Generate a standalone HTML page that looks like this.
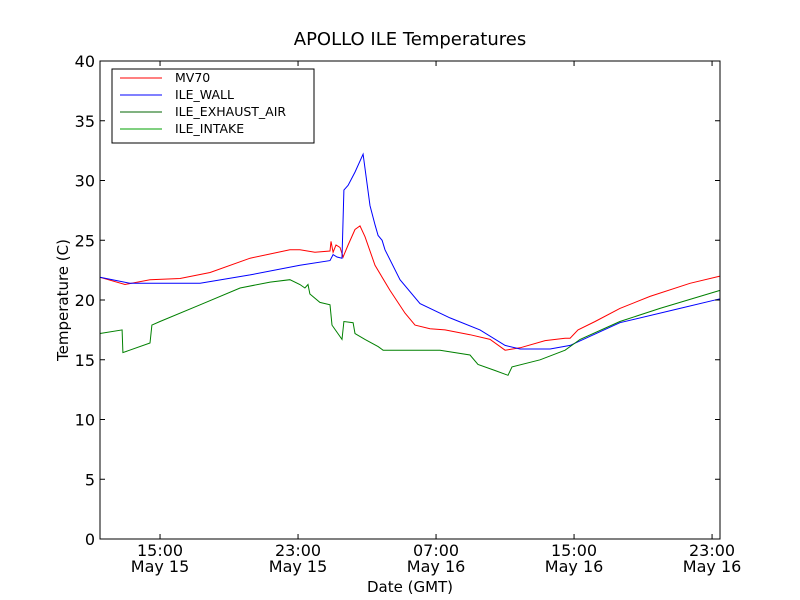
<!DOCTYPE html>
<html><head><meta charset="utf-8"><style>
body{margin:0;background:#fff;}
svg{display:block;font-family:"DejaVu Sans","Liberation Sans",sans-serif;}
</style></head><body>
<svg id="chart" width="800" height="600">
<rect width="800" height="600" fill="#fff"/>
<text x="410" y="45" text-anchor="middle" font-size="18">APOLLO ILE Temperatures</text>
<g id="plot"></g>
<rect x="100" y="61" width="620" height="478" fill="none" stroke="#000" stroke-width="1"/>
<g id="axes"></g>
<text x="410" y="592" text-anchor="middle" font-size="15">Date (GMT)</text>
<text transform="translate(68,300) rotate(-90)" text-anchor="middle" font-size="15">Temperature (C)</text>
<g>
<rect x="112" y="69" width="202" height="74" fill="#fff" stroke="#000" stroke-width="1"/>
<g><line x1="120" x2="162" y1="78" y2="78" stroke="red"/><text x="175" y="82" font-size="12.5">MV70</text></g>
<g><line x1="120" x2="162" y1="95" y2="95" stroke="blue"/><text x="175" y="99" font-size="12.5">ILE_WALL</text></g>
<g><line x1="120" x2="162" y1="112" y2="112" stroke="#006400"/><text x="175" y="116" font-size="12.5">ILE_EXHAUST_AIR</text></g>
<g><line x1="120" x2="162" y1="129" y2="129" stroke="#00a000"/><text x="175" y="133" font-size="12.5">ILE_INTAKE</text></g>
</g>
</svg>
<script>
// times in hours since May 15 00:00 GMT
const mvT=[11.52,12.97,14.42,16.16,17.90,20.22,22.53,23.11,23.98,24.85,24.91,25.03,25.20,25.43,25.61,25.90,26.30,26.59,26.88,27.46,28.33,29.20,29.78,30.65,31.52,32.97,34.13,35.0,35.87,37.32,38.48,38.77,39.23,40.22,41.66,43.40,45.72,47.46];
const mvV=[21.9,21.3,21.7,21.8,22.3,23.5,24.2,24.2,24.0,24.1,24.9,24.0,24.6,24.4,23.6,24.6,25.9,26.2,25.3,22.9,20.8,18.9,17.9,17.6,17.5,17.1,16.7,15.8,16.0,16.6,16.8,16.8,17.5,18.2,19.3,20.3,21.4,22.0];
const wallT=[11.52,13.26,17.32,20.22,23.11,24.85,25.03,25.26,25.55,25.66,25.90,26.30,26.77,26.82,27.17,27.46,27.64,27.87,28.04,28.91,30.07,31.81,33.55,35.0,35.87,37.61,38.77,41.66,45.14,47.46];
const wallV=[21.9,21.4,21.4,22.1,22.9,23.3,23.8,23.6,23.5,29.2,29.6,30.7,32.2,31.7,27.9,26.3,25.4,25.0,24.2,21.7,19.7,18.5,17.5,16.2,15.9,15.9,16.2,18.1,19.3,20.1];
const inT=[11.52,12.80,12.85,14.42,14.53,15.0,17.32,19.64,21.38,22.53,23.11,23.40,23.58,23.69,24.27,24.85,24.97,25.55,25.66,26.19,26.30,26.88,27.64,27.93,28.91,31.23,32.97,33.43,34.42,35.17,35.40,37.03,38.48,39.35,41.66,43.98,46.30,47.46];
const inV=[17.2,17.5,15.6,16.4,17.9,18.2,19.6,21.0,21.5,21.7,21.3,21.0,21.3,20.5,19.8,19.6,17.9,16.7,18.2,18.1,17.2,16.7,16.1,15.8,15.8,15.8,15.4,14.6,14.1,13.7,14.4,15.0,15.8,16.7,18.2,19.3,20.3,20.8];
const yTicks=[0,5,10,15,20,25,30,35,40];
const xTicks=[15,23,31,39,47];
const xTickLabels=["15:00","23:00","07:00","15:00","23:00"];
const xDateLabels=["May 15","May 15","May 16","May 16","May 16"];

const X0=100,X1=720,Y0=539,Y1=61,TMIN=11.52,TMAX=47.46;
const sx=t=>X0+(t-TMIN)/(TMAX-TMIN)*(X1-X0);
const sy=v=>Y0-(v/40)*(Y0-Y1);
const NS="http://www.w3.org/2000/svg";
const plot=document.getElementById('plot'),axes=document.getElementById('axes');
function line(ts,vs,color,name){
  const p=document.createElementNS(NS,'polyline');
  p.setAttribute('points',ts.map((t,i)=>sx(t).toFixed(1)+','+sy(vs[i]).toFixed(1)).join(' '));
  p.setAttribute('fill','none');p.setAttribute('stroke',color);p.setAttribute('stroke-width','1');
  
  
  plot.appendChild(p);
}
line(mvT,mvV,'red','series-mv70');
line(wallT,wallV,'blue','series-ile-wall');
line(inT,inV,'#008000','series-ile-intake');
function mk(tag,attrs,txt){const e=document.createElementNS(NS,tag);for(const k in attrs)e.setAttribute(k,attrs[k]);if(txt!==undefined)e.textContent=txt;axes.appendChild(e);return e;}
yTicks.forEach(v=>{
  const y=sy(v);
  const a=mk('line',{x1:X0,x2:X0+5,y1:y,y2:y,stroke:'#000'});
  
  
  const b=mk('line',{x1:X1-5,x2:X1,y1:y,y2:y,stroke:'#000'});
  
  
  const t=mk('text',{x:X0-5,y:y+6,'text-anchor':'end','font-size':'16'},String(v));
  
  
});
xTicks.forEach((h,i)=>{
  const x=sx(h);
  const a=mk('line',{x1:x,x2:x,y1:Y0,y2:Y0-5,stroke:'#000'});
  
  
  const b=mk('line',{x1:x,x2:x,y1:Y1,y2:Y1+5,stroke:'#000'});
  
  
  const t=mk('text',{x:x,y:556,'text-anchor':'middle','font-size':'16'},xTickLabels[i]);
  
  
  const d=mk('text',{x:x,y:572,'text-anchor':'middle','font-size':'16'},xDateLabels[i]);
  
  
});
</script>
</body></html>
